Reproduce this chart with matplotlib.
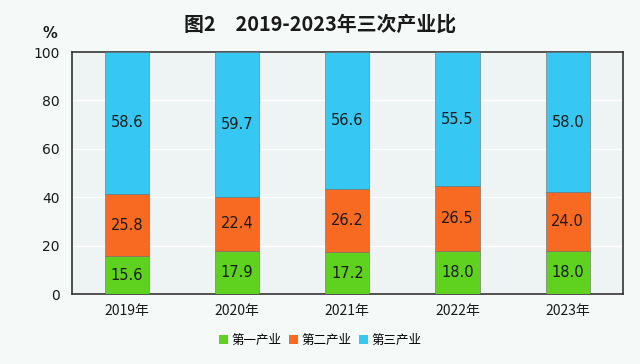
import numpy as np
import matplotlib.pyplot as plt
from matplotlib.patches import Patch

plt.rcParams['font.family'] = ['Noto Sans CJK SC', 'DejaVu Sans']

# data
years = ['2019年', '2020年', '2021年', '2022年', '2023年']
primary = [15.6, 17.9, 17.2, 18.0, 18.0]
secondary = [25.8, 22.4, 26.2, 26.5, 24.0]
tertiary = [58.6, 59.7, 56.6, 55.5, 58.0]
names = ['第一产业', '第二产业', '第三产业']
colors = ['#5ed21f', '#f86a22', '#36c8f2']

fig = plt.figure(figsize=(6.4, 3.64), dpi=100, facecolor='#f5f9f8')
ax = fig.add_axes([0.1125, 0.192, 0.8605, 0.665])
ax.set_facecolor('#eef3f3')

x = np.arange(len(years))
w = 0.4
bottom = np.zeros(len(years))
for vals, c in zip([primary, secondary, tertiary], colors):
    ax.bar(x, vals, w, bottom=bottom, color=c, edgecolor='#6a6a6a', linewidth=0.4, zorder=3)
    for xi, b, v in zip(x, bottom, vals):
        ax.text(xi, b + v / 2, f'{v:.1f}', ha='center', va='center',
                fontsize=10.5, color='#1a1a1a', family='DejaVu Sans', zorder=4)
    bottom += np.array(vals)

ax.set_xlim(-0.5, 4.5)
ax.set_ylim(0, 100)
ax.set_yticks([0, 20, 40, 60, 80, 100])
ax.set_xticks(x)
ax.set_xticklabels(years)
ax.tick_params(length=0, labelsize=10, colors='#1a1a1a')
ax.tick_params(axis='y', pad=9)
ax.tick_params(axis='x', pad=7)
for lab in ax.get_yticklabels():
    lab.set_family('DejaVu Sans')
ax.yaxis.grid(True, color='white', linewidth=1, zorder=0)
for s in ax.spines.values():
    s.set_color('#333333')
    s.set_linewidth(1.2)

fig.text(0.078, 0.907, '%', fontsize=10.5, ha='center', va='center', color='#1a1a1a',
         family='DejaVu Sans', weight='bold')
fig.text(0.5, 0.934, '图2　2019-2023年三次产业比', fontsize=14.3, weight='bold',
         ha='center', va='center', color='#1a1a1a')

handles = [Patch(facecolor=c, edgecolor='none') for c in colors]
fig.legend(handles, names, loc='center', bbox_to_anchor=(0.5, 0.064), ncol=3, frameon=False,
           fontsize=9, handlelength=0.7, handleheight=0.7, handletextpad=0.3, columnspacing=0.6)

fig.savefig('out.png', dpi=100, facecolor=fig.get_facecolor())
